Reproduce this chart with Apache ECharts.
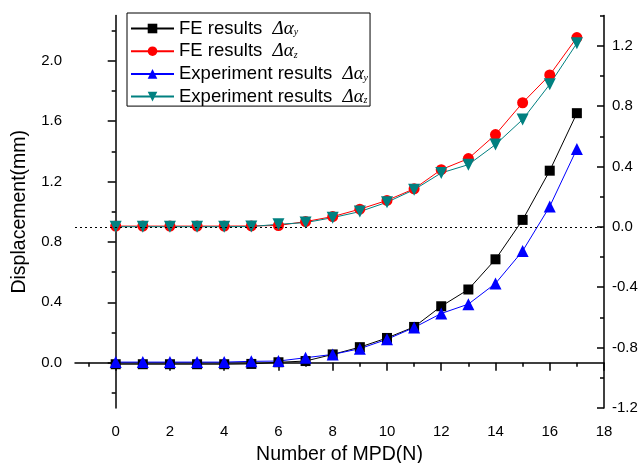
<!DOCTYPE html>
<html>
<head>
<meta charset="utf-8">
<script src="https://cdn.jsdelivr.net/npm/echarts@6/dist/echarts.min.js"></script>
<style>
  html, body { margin: 0; padding: 0; background: #fff; }
  #chart { width: 640px; height: 463px; }
</style>
</head>
<body>
<div id="chart"></div>
<script>
// Number of MPD on the x axis, displacement (mm).
const mpd = [0, 1, 2, 3, 4, 5, 6, 7, 8, 9, 10, 11, 12, 13, 14, 15, 16, 17];
const feY = [-0.01, -0.01, -0.01, -0.01, -0.01, -0.008, 0.003, 0.011, 0.055, 0.103, 0.164, 0.237, 0.374, 0.485, 0.685, 0.946, 1.272, 1.653];
const feZ = [0.905, 0.905, 0.905, 0.905, 0.905, 0.906, 0.909, 0.935, 0.968, 1.017, 1.075, 1.152, 1.279, 1.352, 1.511, 1.722, 1.906, 2.154];
const expY = [0.004, 0.004, 0.004, 0.004, 0.004, 0.009, 0.011, 0.033, 0.055, 0.093, 0.155, 0.233, 0.326, 0.388, 0.525, 0.74, 1.035, 1.416];
const expZ = [0.901, 0.901, 0.901, 0.901, 0.901, 0.902, 0.917, 0.928, 0.961, 1.001, 1.063, 1.146, 1.257, 1.312, 1.445, 1.611, 1.844, 2.116];

// tick values
const xMajor = [0, 2, 4, 6, 8, 10, 12, 14, 16, 18];
const xMinor = [-1, 1, 3, 5, 7, 9, 11, 13, 15, 17];
const leftMajor = [0, 0.4, 0.8, 1.2, 1.6, 2.0];
const leftMinor = [-0.2, 0.2, 0.6, 1.0, 1.4, 1.8, 2.2];
const rightMajor = [-1.2, -0.8, -0.4, 0, 0.4, 0.8, 1.2];
const rightMinor = [-1.0, -0.6, -0.2, 0.2, 0.6, 1.0, 1.4];

const FONT = 'Liberation Sans, Arial, sans-serif';
const AXIS = { lineStyle: { color: '#000', width: 1.5 } };
const TICK = { lineStyle: { color: '#000', width: 1.5 } };

const pairs = ys => mpd.map((x, i) => [x, ys[i]]);

function makeSeries(name, ys, color, symbol, size) {
  return {
    name, type: 'line', data: pairs(ys),
    xAxisIndex: 0, yAxisIndex: 0,
    symbol, symbolSize: size,
    lineStyle: { color, width: 1 },
    itemStyle: { color },
  };
}

const series = [
  makeSeries('FE results|y', feY, '#000000', 'rect', 10),
  makeSeries('FE results|z', feZ, '#ff0000', 'circle', 11),
  makeSeries('Experiment results|y', expY, '#0000ff', 'triangle', 12),
  makeSeries('Experiment results|z', expZ, '#008080', 'path://M0,0 L10,0 L5,9 Z', 12),
];
series[0].markLine = {
  silent: true, symbol: 'none', label: { show: false },
  lineStyle: { color: '#000', width: 1, type: [2, 3] },
  data: [{ yAxis: 0.9 }],
};

const chart = echarts.init(document.getElementById('chart'));
chart.setOption({
  animation: false,
  backgroundColor: '#fff',
  textStyle: { fontFamily: FONT, color: '#000' },
  grid: { left: 75, right: 36, top: 15.5, bottom: 55, outerBoundsMode: 'none', containLabel: false },
  legend: {
    orient: 'vertical', left: 127, top: 13,
    padding: [6, 2, 0, 3],
    itemWidth: 43, itemHeight: 12, itemGap: 3.7,
    borderColor: '#000', borderWidth: 1,
    textStyle: {
      fontFamily: FONT, fontSize: 18.5, color: '#000', lineHeight: 18.7,
      rich: {
        g: { fontFamily: 'Liberation Serif', fontStyle: 'italic', fontSize: 19, color: '#000', lineHeight: 18.7 },
        s: { fontFamily: 'Liberation Serif', fontStyle: 'italic', fontSize: 10, color: '#000', lineHeight: 10, padding: [8, 0, 0, 0] },
      },
    },
    formatter: name => {
      const [label, sub] = name.split('|');
      return label + '  {g|Δα}{s|' + sub + '}';
    },
  },
  xAxis: [
    {
      type: 'value', position: 'bottom', min: -1.5, max: 18,
      name: 'Number of MPD(N)', nameLocation: 'middle', nameGap: 37,
      nameTextStyle: { fontSize: 19.5, color: '#000', fontFamily: FONT },
      axisLine: AXIS,
      axisTick: { customValues: xMajor, length: 8, ...TICK },
      axisLabel: { customValues: xMajor, margin: 16, fontSize: 15, color: '#000' },
      splitLine: { show: false },
    },
    {
      type: 'value', position: 'bottom', min: -1.5, max: 18,
      axisLine: { show: false },
      axisTick: { customValues: xMinor, length: 4, ...TICK },
      axisLabel: { show: false },
      splitLine: { show: false },
    },
  ],
  yAxis: [
    {
      type: 'value', position: 'left', min: -0.3, max: 2.3,
      name: 'Displacement(mm)', nameLocation: 'middle', nameGap: 45,
      nameTextStyle: { fontSize: 19.5, color: '#000', fontFamily: FONT },
      axisLine: AXIS,
      axisTick: { customValues: leftMajor, length: 8, ...TICK },
      axisLabel: { customValues: leftMajor, margin: 13, fontSize: 15, color: '#000', formatter: v => v.toFixed(1) },
      splitLine: { show: false },
    },
    {
      type: 'value', position: 'left', min: -0.3, max: 2.3,
      axisLine: { show: false },
      axisTick: { customValues: leftMinor, length: 4, ...TICK },
      axisLabel: { show: false },
      splitLine: { show: false },
    },
    {
      type: 'value', position: 'right', min: -1.2, max: 1.4,
      axisLine: AXIS,
      axisTick: { customValues: rightMajor, inside: true, length: 7, ...TICK },
      axisLabel: { customValues: rightMajor, margin: 8, fontSize: 15, color: '#000', formatter: v => v.toFixed(1) },
      splitLine: { show: false },
    },
    {
      type: 'value', position: 'right', min: -1.2, max: 1.4,
      axisLine: { show: false },
      axisTick: { customValues: rightMinor, inside: true, length: 4, ...TICK },
      axisLabel: { show: false },
      splitLine: { show: false },
    },
  ],
  series,
});
</script>
</body>
</html>
